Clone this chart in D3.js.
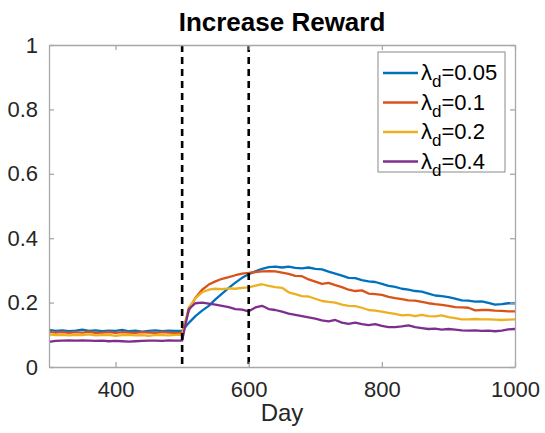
<!DOCTYPE html>
<html>
<head>
<meta charset="utf-8">
<script src="https://cdn.jsdelivr.net/npm/d3@7"></script>
<style>
  body { margin: 0; background: #fff; }
  text { font-family: "Liberation Sans", Arial, Helvetica, sans-serif; fill: #262626; }
</style>
</head>
<body>
<div id="chart"></div>
<script>
// days sampled every 10 from 300 to 1000
const days = d3.range(300, 1001, 10);

const lam005 = [0.115,0.112,0.114,0.111,0.113,0.116,0.112,0.114,0.111,0.113,0.112,0.115,0.111,0.113,0.110,0.112,0.114,0.111,0.113,0.112,
  0.112,0.137,0.158,0.175,0.190,0.210,0.228,0.246,0.262,0.277,0.288,0.297,0.305,0.310,0.312,0.309,0.312,0.308,0.306,0.309,
  0.305,0.303,0.296,0.290,0.284,0.277,0.276,0.270,0.266,0.264,0.258,0.252,0.249,0.243,0.240,0.236,0.234,0.228,0.222,0.220,
  0.217,0.212,0.207,0.206,0.203,0.204,0.199,0.194,0.195,0.198,0.198];
const lam01 = [0.109,0.107,0.108,0.106,0.108,0.107,0.109,0.106,0.107,0.108,0.106,0.108,0.107,0.106,0.108,0.107,0.106,0.108,0.107,0.106,
  0.107,0.175,0.215,0.240,0.256,0.266,0.274,0.279,0.285,0.290,0.292,0.295,0.297,0.298,0.297,0.293,0.289,0.283,0.282,0.272,
  0.265,0.258,0.261,0.254,0.248,0.240,0.236,0.238,0.228,0.226,0.224,0.218,0.214,0.211,0.207,0.206,0.202,0.198,0.195,0.193,
  0.190,0.186,0.185,0.184,0.176,0.177,0.177,0.175,0.174,0.173,0.173];
const lam02 = [0.101,0.099,0.100,0.098,0.100,0.099,0.101,0.098,0.099,0.100,0.097,0.099,0.100,0.098,0.099,0.097,0.100,0.099,0.098,0.100,
  0.100,0.185,0.214,0.232,0.240,0.243,0.242,0.244,0.243,0.246,0.247,0.253,0.257,0.252,0.248,0.246,0.232,0.226,0.220,0.219,
  0.212,0.205,0.202,0.200,0.194,0.190,0.189,0.184,0.177,0.175,0.172,0.168,0.165,0.160,0.162,0.158,0.162,0.158,0.157,0.160,
  0.155,0.152,0.148,0.148,0.149,0.148,0.148,0.147,0.146,0.147,0.148];
const lam04 = [0.078,0.081,0.082,0.083,0.082,0.083,0.082,0.081,0.082,0.080,0.081,0.080,0.079,0.080,0.081,0.082,0.082,0.081,0.083,0.082,
  0.082,0.180,0.198,0.200,0.197,0.194,0.190,0.186,0.180,0.178,0.173,0.185,0.190,0.180,0.177,0.172,0.166,0.162,0.158,0.154,
  0.150,0.145,0.142,0.146,0.138,0.134,0.138,0.133,0.130,0.133,0.128,0.124,0.124,0.126,0.129,0.124,0.121,0.118,0.119,0.116,
  0.118,0.116,0.114,0.113,0.114,0.112,0.113,0.111,0.113,0.117,0.118];

const seriesNames = ['0.05', '0.1', '0.2', '0.4'];
const seriesValues = [lam005, lam01, lam02, lam04];
const colors = ['#0072BD', '#D95319', '#EDB120', '#7E2F8E'];
const xTicks = [400, 600, 800, 1000];
const yTicks = [0, 0.2, 0.4, 0.6, 0.8, 1];
const eventDays = [500, 600];

const W = 545, H = 433;
const mLeft = 49, mRight = 515, mTop = 45, mBottom = 367;

const svg = d3.select('#chart').append('svg')
  .attr('width', W)
  .attr('height', H);

const x = d3.scaleLinear().domain([300, 1000]).range([mLeft, mRight]);
const y = d3.scaleLinear().domain([0, 1]).range([mBottom, mTop]);

// series
const line = d3.line().x((d, i) => x(days[i])).y(d => y(d));
seriesValues.forEach((vals, k) => {
  svg.append('path')
    .attr('d', line(vals))
    .attr('fill', 'none')
    .attr('stroke', colors[k])
    .attr('stroke-width', 2.3)
    .attr('stroke-linejoin', 'round');
});

// dashed event lines
eventDays.forEach(d => {
  svg.append('line')
    .attr('x1', x(d)).attr('x2', x(d))
    .attr('y1', mTop).attr('y2', mBottom)
    .attr('stroke', '#000')
    .attr('stroke-width', 2.6)
    .attr('stroke-dasharray', '7,5');
});

// axes (inside ticks, box)
const axisColor = '#a8a8a8';
const xb = svg.append('g').attr('transform', `translate(0,${mBottom})`)
  .call(d3.axisBottom(x).tickValues(xTicks).tickSize(-5).tickPadding(14).tickSizeOuter(0)
    .tickFormat(d3.format('d')));
const xt = svg.append('g').attr('transform', `translate(0,${mTop})`)
  .call(d3.axisTop(x).tickValues(xTicks).tickSize(-5).tickFormat('').tickSizeOuter(0));
const yl = svg.append('g').attr('transform', `translate(${mLeft},0)`)
  .call(d3.axisLeft(y).tickValues(yTicks).tickSize(-5).tickPadding(11).tickSizeOuter(0)
    .tickFormat(d => d === 0 || d === 1 ? d3.format('d')(d) : d3.format('.1f')(d)));
const yr = svg.append('g').attr('transform', `translate(${mRight},0)`)
  .call(d3.axisRight(y).tickValues(yTicks).tickSize(-5).tickFormat('').tickSizeOuter(0));

[xb, xt, yl, yr].forEach(g => {
  g.select('.domain').attr('stroke', axisColor).attr('stroke-width', 1.3);
  g.selectAll('.tick line').attr('stroke', axisColor).attr('stroke-width', 1.3);
  g.selectAll('.tick text').attr('fill', '#262626').style('font-size', '22px')
    .style('font-family', '"Liberation Sans", Arial, sans-serif');
});

// title and x label
svg.append('text')
  .attr('x', (mLeft + mRight) / 2).attr('y', 31)
  .attr('text-anchor', 'middle')
  .style('font-size', '26px').style('font-weight', 'bold')
  .style('fill', '#000')
  .text('Increase Reward');

svg.append('text')
  .attr('x', (mLeft + mRight) / 2).attr('y', 421)
  .attr('text-anchor', 'middle')
  .style('font-size', '24px')
  .text('Day');

// legend
const lg = svg.append('g');
lg.append('rect')
  .attr('x', 378).attr('y', 52).attr('width', 127).attr('height', 120)
  .attr('fill', '#fff').attr('stroke', '#8a8a8a').attr('stroke-width', 1);
seriesNames.forEach((name, k) => {
  const cy = 73 + k * 29.5;
  lg.append('line')
    .attr('x1', 383).attr('x2', 418).attr('y1', cy).attr('y2', cy)
    .attr('stroke', colors[k]).attr('stroke-width', 2.3);
  const t = lg.append('text')
    .attr('x', 421).attr('y', cy + 7)
    .style('font-size', '22px')
    .style('fill', '#000');
  t.append('tspan').text('\u03bb');
  t.append('tspan').attr('dy', 7).style('font-size', '17px').text('d');
  t.append('tspan').attr('dy', -7).text('=' + name);
});
</script>
</body>
</html>
